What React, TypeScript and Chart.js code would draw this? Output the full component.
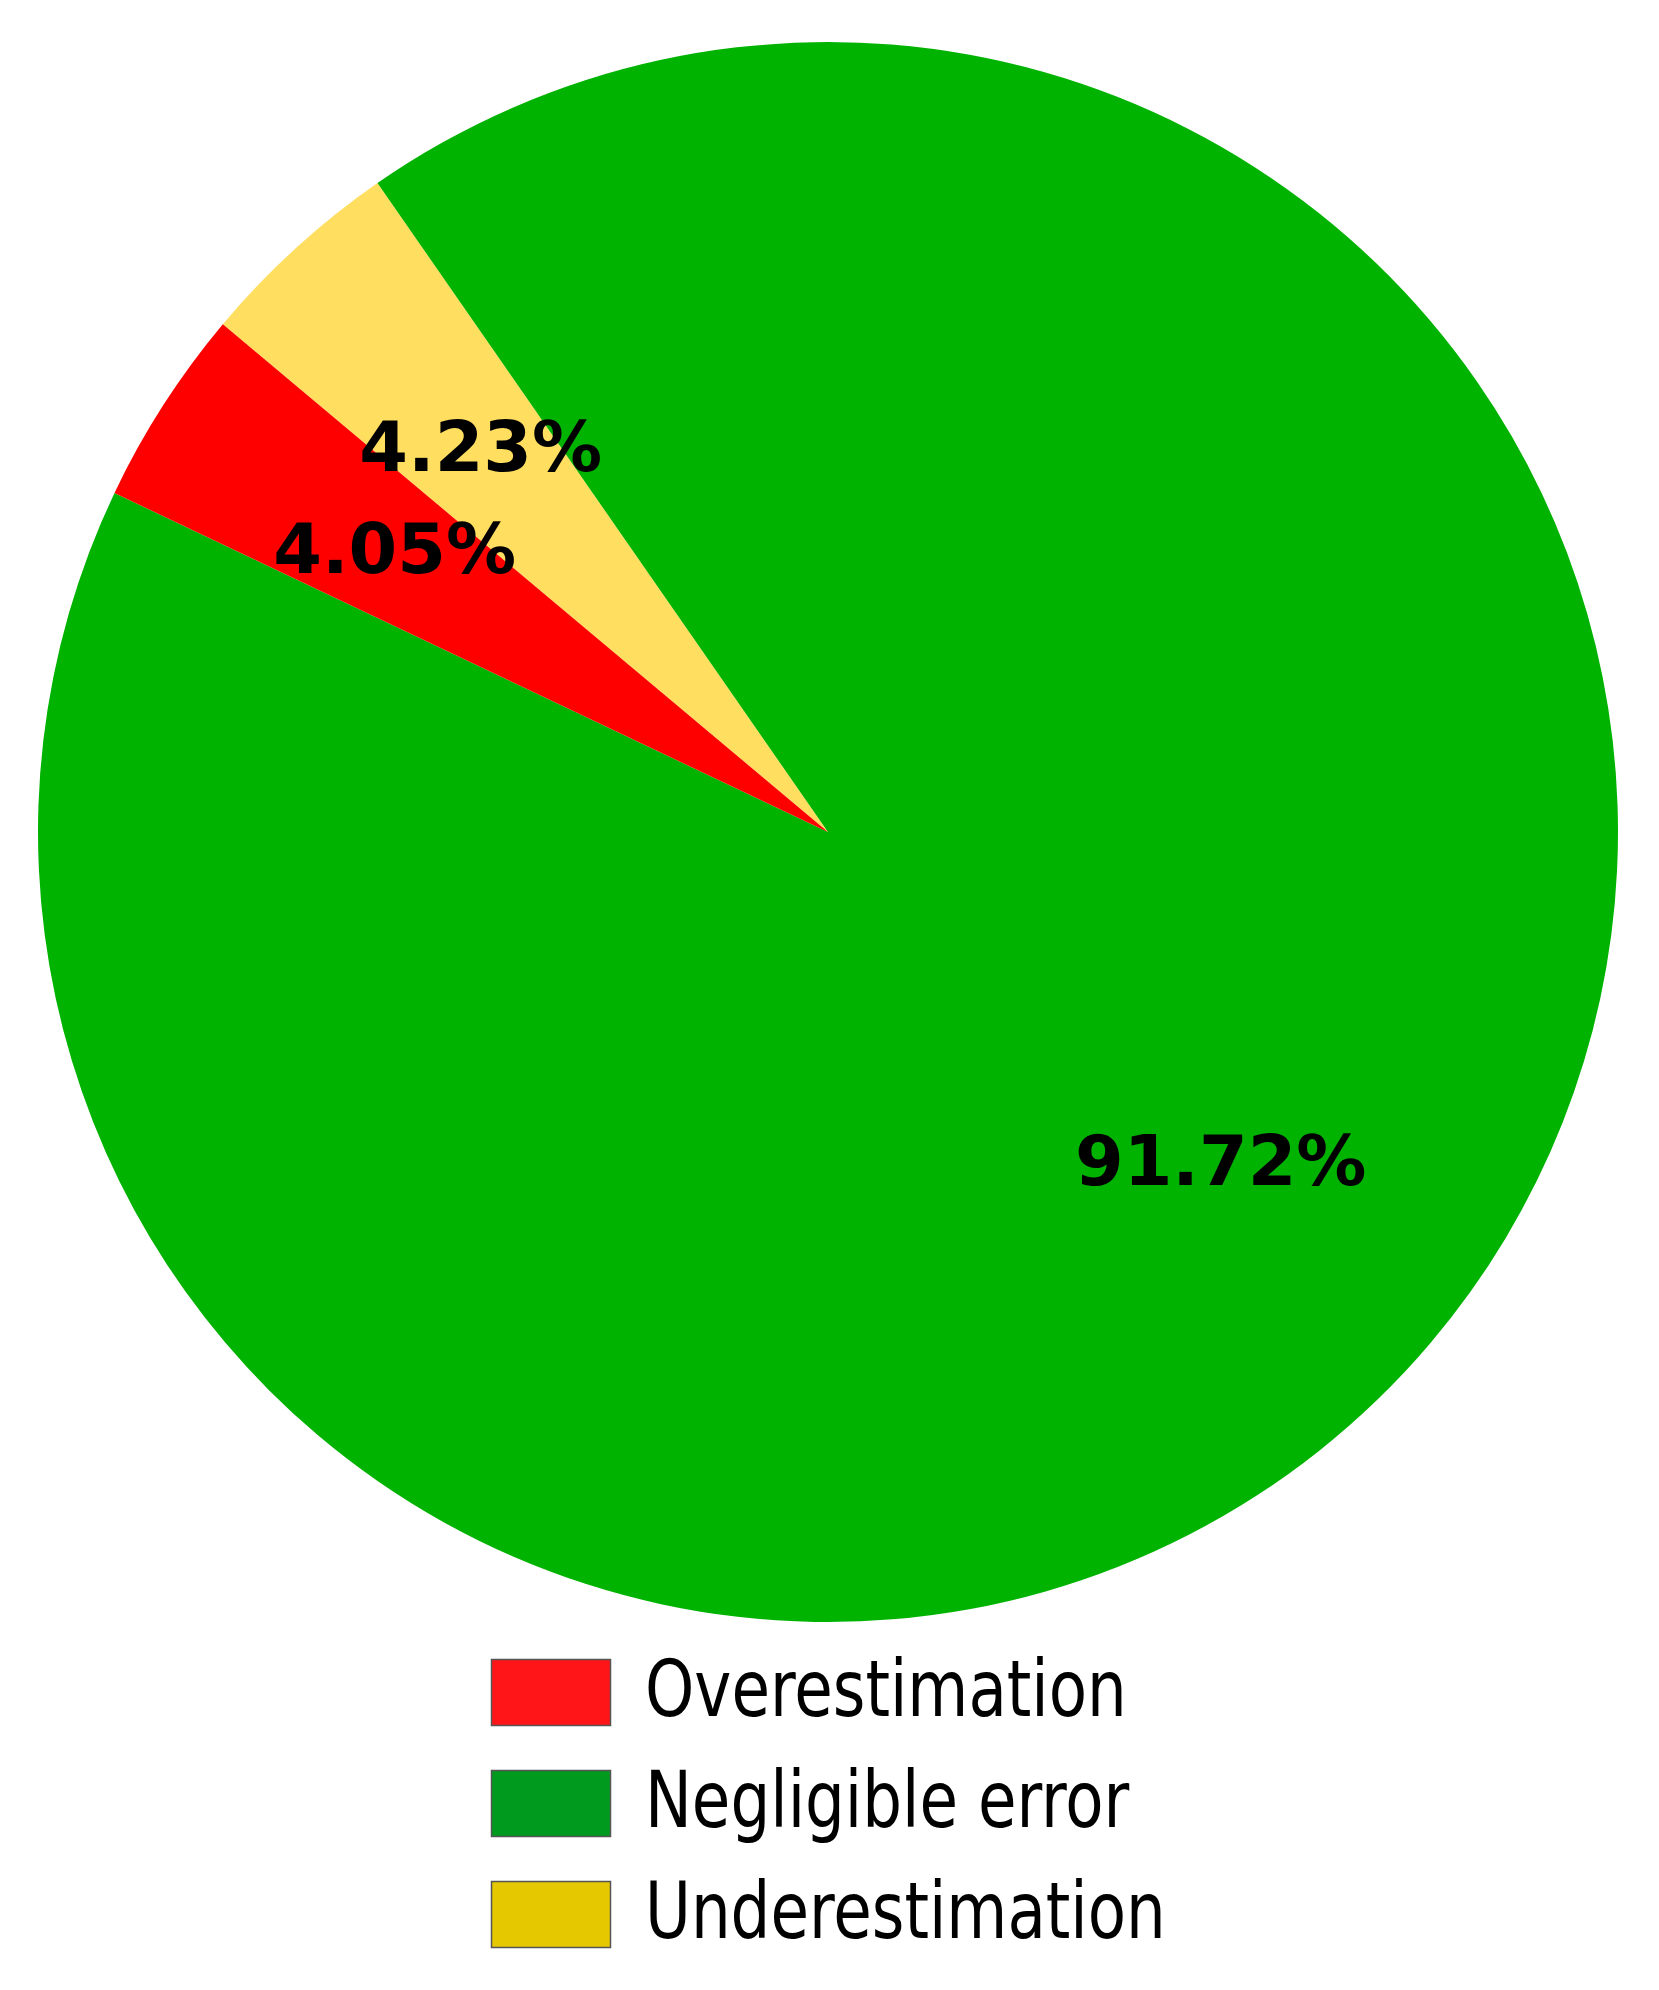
import React, { useEffect, useRef } from 'react';
import { Chart, registerables } from 'chart.js';

Chart.register(...registerables);

// ---- data ----
const categories = ['Overestimation', 'Negligible error', 'Underestimation'];
const values = [4.05, 91.72, 4.23];
const percentLabels = ['4.05%', '91.72%', '4.23%'];
const sliceColors = ['#FF0000', '#00B300', '#FFDE60'];
const legendColors = ['#FF1418', '#009A1E', '#E6C800'];

const W = 1659;
const H = 1990;

// the original pie runs counter-clockwise; Chart.js draws clockwise, so draw in reversed order
const drawOrder = categories.map((_, i) => categories.length - 1 - i);

const pctLabelPlugin = {
  id: 'pctLabels',
  afterDatasetsDraw(chart: any) {
    const ctx = chart.ctx;
    const meta = chart.getDatasetMeta(0);
    const labels: string[] = chart.data.datasets[0].pctLabels;
    ctx.save();
    ctx.font = 'bold 70px "DejaVu Sans", sans-serif';
    ctx.fillStyle = '#000';
    ctx.textAlign = 'center';
    ctx.textBaseline = 'middle';
    meta.data.forEach((arc: any, i: number) => {
      const p = arc.getProps(['x', 'y', 'startAngle', 'endAngle', 'outerRadius'], true);
      const mid = (p.startAngle + p.endAngle) / 2;
      const r = p.outerRadius * 0.652;
      ctx.fillText(labels[i], p.x + Math.cos(mid) * r, p.y + Math.sin(mid) * r + 1);
    });
    ctx.restore();
  },
};

const customLegendPlugin = {
  id: 'customLegend',
  afterDraw(chart: any) {
    const ctx = chart.ctx;
    const area = chart.chartArea;
    const cx = (area.left + area.right) / 2;
    const boxLeft = cx - 337;
    const top0 = area.bottom + 37;
    const pitch = 111;
    const bw = 120;
    const bh = 67;
    ctx.save();
    ctx.font = '78px "DejaVu Sans Condensed", "DejaVu Sans", sans-serif';
    ctx.textAlign = 'left';
    ctx.textBaseline = 'middle';
    categories.forEach((name, i) => {
      const y = top0 + i * pitch;
      ctx.fillStyle = legendColors[i];
      ctx.fillRect(boxLeft, y, bw, bh);
      ctx.strokeStyle = '#555555';
      ctx.lineWidth = 1.5;
      ctx.strokeRect(boxLeft + 0.5, y + 0.5, bw - 1, bh - 1);
      ctx.fillStyle = '#000';
      ctx.save();
      ctx.translate(boxLeft + 154, y + bh / 2 + 3);
      ctx.scale(0.893, 1);
      ctx.fillText(name, 0, 0);
      ctx.restore();
    });
    ctx.restore();
  },
};

export default function App() {
  const ref = useRef<HTMLCanvasElement | null>(null);

  useEffect(() => {
    if (!ref.current) return;
    const chart = new Chart(ref.current, {
      type: 'pie',
      data: {
        labels: drawOrder.map((i) => categories[i]),
        datasets: [
          {
            data: drawOrder.map((i) => values[i]),
            backgroundColor: drawOrder.map((i) => sliceColors[i]),
            borderWidth: 0,
            pctLabels: drawOrder.map((i) => percentLabels[i]),
          } as any,
        ],
      },
      options: {
        responsive: false,
        animation: false,
        devicePixelRatio: 1,
        rotation: 310,
        layout: { padding: { left: 38, right: 41, top: 42, bottom: 368 } },
        plugins: {
          legend: { display: false },
          tooltip: { enabled: false },
        },
      },
      plugins: [pctLabelPlugin, customLegendPlugin],
    });
    return () => chart.destroy();
  }, []);

  return (
    <div style={{ position: 'absolute', left: 0, top: 0, width: W, height: H, background: '#fff' }}>
      <canvas ref={ref} width={W} height={H} style={{ display: 'block' }} />
    </div>
  );
}
